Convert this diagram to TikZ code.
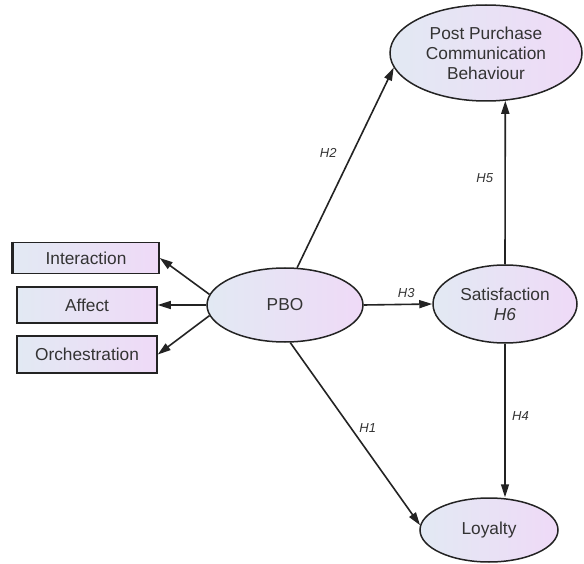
\documentclass[tikz,border=0pt]{standalone}
\usepackage{fontspec}
\setmainfont{Liberation Sans}
\usetikzlibrary{shapes.geometric,arrows.meta}
\definecolor{lblue}{RGB}{226,233,243}
\definecolor{lpink}{RGB}{239,218,247}
\definecolor{edge}{RGB}{35,35,35}
\tikzset{
  grad/.style={left color=lblue, right color=lpink, draw=edge, line width=1.5pt},
  latent/.style={grad, ellipse, inner sep=0pt, align=center,
    font=\fontsize{17.3}{20}\selectfont, text=black!80},
  indic/.style={grad, rectangle, inner sep=0pt, minimum width=140pt, minimum height=34pt,
    font=\fontsize{17.3}{20}\selectfont, text=black!80},
  conn/.style={draw=edge, line width=1.6pt, -{Triangle[length=13pt,width=8pt]}},
  hlab/.style={font=\fontsize{13}{15}\selectfont\itshape, text=black!80}
}
\begin{document}
\begin{tikzpicture}[x=1pt,y=-1pt]
\useasboundingbox (0,0) rectangle (584,564);
\node[latent, minimum width=156pt, minimum height=74pt] (pbo) at (285,305) {PBO};
\node[latent, minimum width=144pt, minimum height=78pt] (sat) at (505,304) {Satisfaction\\\itshape H6};
\node[latent, minimum width=192pt, minimum height=96pt] (pp) at (486,53) {Post Purchase\\Communication\\Behaviour};
\node[latent, minimum width=138pt, minimum height=64pt] (loy) at (489,530) {Loyalty};
\node[indic, minimum width=146pt, minimum height=31pt] (int) at (86,258) {Interaction};
\node[indic, minimum height=36pt] (aff) at (87,305) {Affect};
\node[indic, minimum height=37pt] (orc) at (87,354.5) {Orchestration};
\draw[edge, line width=2.8pt] (int.north west) -- (int.south west);
\draw[conn] (pbo.172) -- (int.east);
\draw[conn] (pbo.west) -- (aff.east);
\draw[conn] (pbo.188) -- (orc.east);
\draw[conn] (pbo.72) -- node[hlab, pos=0.575, left=12pt] {H2} (pp.189);
\draw[conn] (pbo.east) -- node[hlab, pos=0.62, above=3pt] {H3} (sat.west);
\draw[conn] (sat.north) -- node[hlab, pos=0.53, left=8pt] {H5} (pp.292);
\draw[conn] (sat.south) -- node[hlab, pos=0.47, right=3pt] {H4} (sat.south |- loy.north);
\draw[conn] (pbo.278) -- node[hlab, pos=0.47, right=4pt] {H1} (loy.176);
\end{tikzpicture}
\end{document}
